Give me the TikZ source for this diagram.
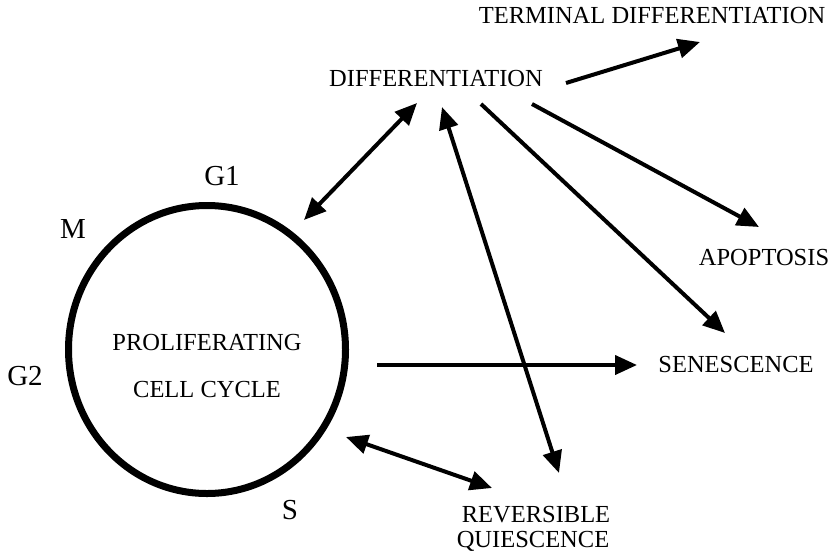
\documentclass[tikz,border=0pt]{standalone}
\usepackage{fontspec}
\setmainfont{Liberation Serif}
\usetikzlibrary{arrows.meta,shapes.geometric}
\begin{document}
\begin{tikzpicture}[x=1pt,y=-1pt,
  lbl/.style={inner sep=0pt, anchor=base, font=\fontsize{24.5}{26}\selectfont},
  phase/.style={inner sep=0pt, anchor=base, font=\fontsize{29}{30}\selectfont},
  tip/.style={Triangle[length=22pt,width=19pt]},
  conn/.style={line width=4pt, -{Triangle[length=22pt,width=19pt]}},
  dconn/.style={line width=4pt, {Triangle[length=22pt,width=19pt]}-{Triangle[length=22pt,width=19pt]}}]
\useasboundingbox (0,0) rectangle (834,552);
\node[ellipse, draw, line width=7pt, minimum width=277pt, minimum height=288pt, inner sep=0pt] (cyc) at (207,349.5) {};
\node[lbl] (prol) at (207,350) {PROLIFERATING};
\node[lbl] (cell) at (207,397) {CELL CYCLE};
\node[phase] (g1) at (222,185) {G1};
\node[phase] (m) at (73,238) {M};
\node[phase] (g2) at (25,385) {G2};
\node[phase] (s) at (290,519) {S};
\node[lbl] (term) at (652,23) {TERMINAL DIFFERENTIATION};
\node[lbl] (diff) at (436,86) {DIFFERENTIATION};
\node[lbl] (apop) at (764,265) {APOPTOSIS};
\node[lbl] (sen) at (736,372) {SENESCENCE};
\node[lbl] (rev1) at (536,522) {REVERSIBLE};
\node[lbl] (rev2) at (533,547) {QUIESCENCE};
% connector end points
\coordinate (dT) at (566,83);
\coordinate (tT) at (700,42);
\coordinate (dC) at (417,103);
\coordinate (cD) at (304,220);
\coordinate (dR) at (442,107);
\coordinate (rD) at (559,473);
\coordinate (dS) at (481,104);
\coordinate (sD) at (725,333);
\coordinate (dA) at (532,104);
\coordinate (aD) at (759,227);
\coordinate (cS) at (377,365);
\coordinate (sC) at (637,365);
\coordinate (cR) at (346,437);
\coordinate (rC) at (492,488);
\draw[conn] (dT) -- (tT);
\draw[dconn] (cD) -- (dC);
\draw[dconn] (rD) -- (dR);
\draw[conn] (dS) -- (sD);
\draw[conn] (dA) -- (aD);
\draw[conn] (cS) -- (sC);
\draw[dconn] (cR) -- (rC);
\end{tikzpicture}
\end{document}
